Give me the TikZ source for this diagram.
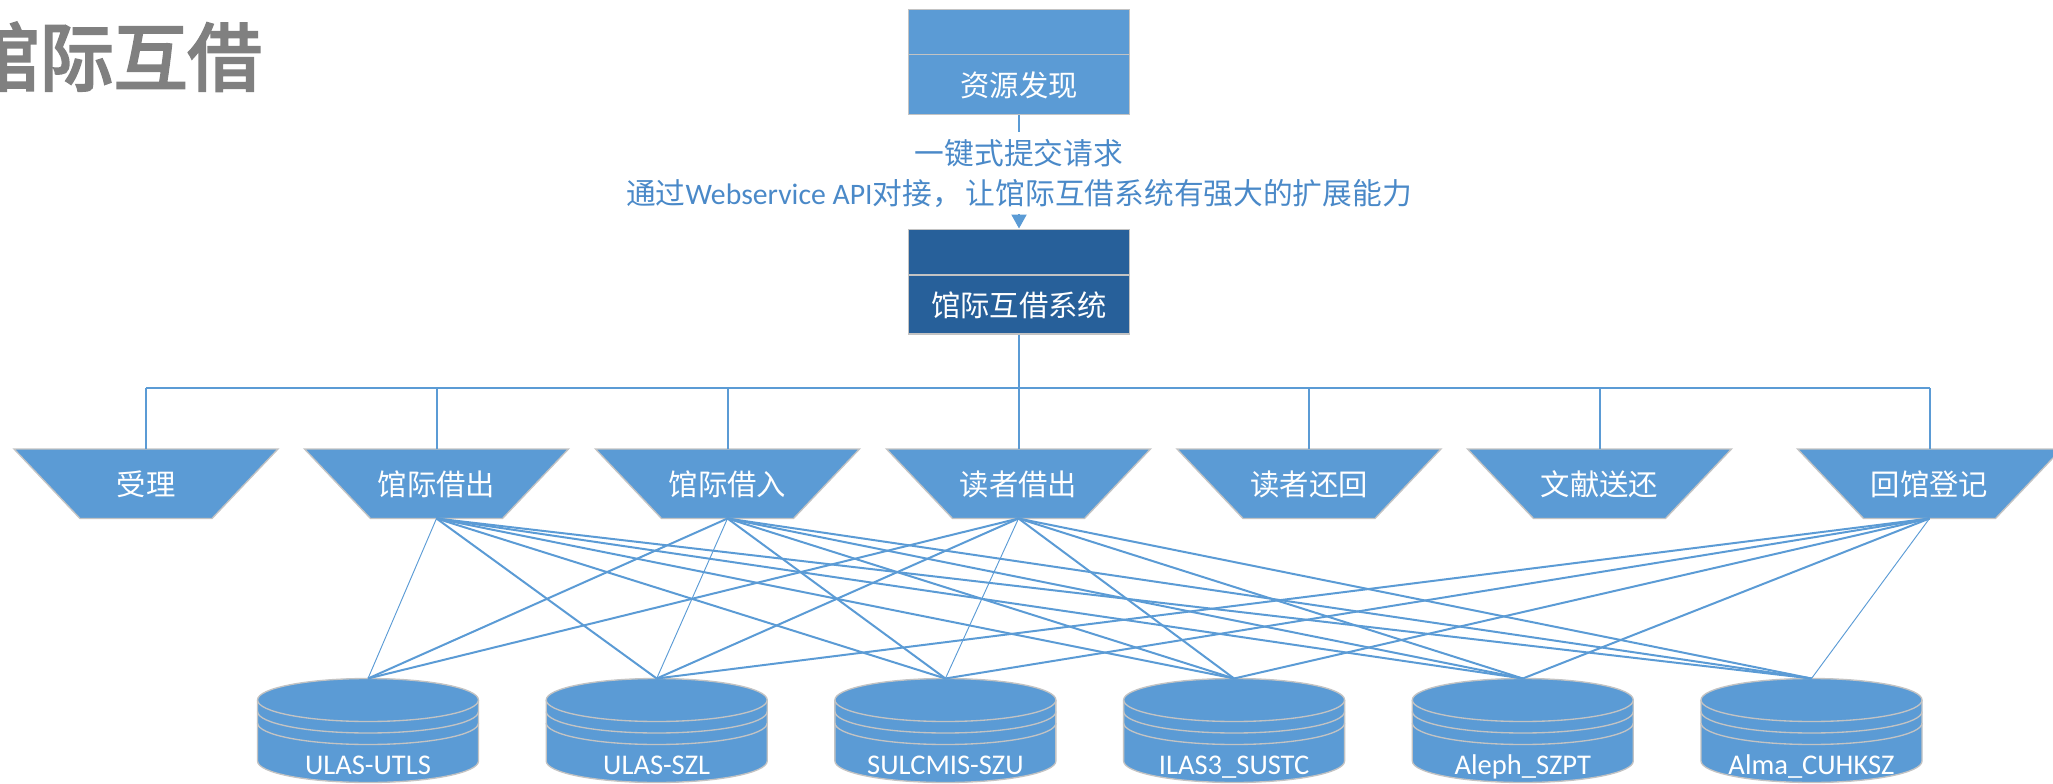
\documentclass[tikz,border=0pt]{standalone}
\usepackage{fontspec}
\setmainfont{Carlito}
\newfontfamily\cjk{Noto Sans CJK SC}
\newfontfamily\cjkb[FakeBold=3.5]{Noto Sans CJK SC}
\usetikzlibrary{arrows.meta}
\definecolor{lblue}{HTML}{5B9BD5}
\definecolor{dblue}{HTML}{27609A}
\definecolor{gborder}{HTML}{C3C3C3}
\definecolor{ttgray}{HTML}{808080}
\definecolor{labblue}{HTML}{4A89C8}
\begin{document}
\begin{tikzpicture}[x=0.75pt,y=-0.75pt,
  conn/.style={draw=lblue,line width=1.5pt},
  thinconn/.style={draw=lblue,line width=0.7pt},
  edgebox/.style={draw=gborder,line width=1pt},
  wtext/.style={text=white,font=\cjk\fontsize{22}{26}\selectfont,inner sep=0pt},
  dbtext/.style={text=white,font=\fontsize{21.4}{24}\selectfont,inner sep=0pt,anchor=base},
  labtext/.style={text=labblue,font=\fontsize{22.3}{30}\selectfont,align=center,inner xsep=2pt,inner ysep=5pt},
  titletext/.style={text=ttgray,font=\cjkb\fontsize{55.5}{60}\selectfont,inner sep=0pt,anchor=base east},
  mainbox/.style={edgebox,minimum width=165.75pt,minimum height=78.6pt,inner sep=0pt}
]
\useasboundingbox (0,0) rectangle (2053,784);

% title
\node[titletext] (title) at (262,85) {馆际互借};

% top boxes
\node[mainbox,fill=lblue] (res) at (1019,61.8) {};
\draw[edgebox] (908.5,54.3) -- (1129.5,54.3);
\node[wtext] (restxt) at (1019,85) {资源发现};

\node[mainbox,fill=dblue] (sys) at (1019,281.6) {};
\draw[edgebox] (908.5,275) -- (1129.5,275);
\node[wtext] (systxt) at (1019,305) {馆际互借系统};

% label between
\node[labtext] (lab) at (1019,173) {{\cjk 一键式提交请求}\\{\cjk 通过}Webservice API{\cjk 对接，\hspace{3pt}让馆际互借系统有强大的扩展能力}};
\draw[conn] (res.south) -- (lab.north);
\draw[conn,-{Triangle[length=10.5pt,width=11.25pt]}] (lab.south) -- (sys.north);

% trapezoids
\foreach \x/\n/\t in {146/a/受理,436.5/b/馆际借出,727.5/c/馆际借入,1018.5/d/读者借出,1309/e/读者还回,1599.5/f/文献送还,1929.5/g/回馆登记}{
  \filldraw[edgebox,fill=lblue] (\x-132,449) -- (\x+132,449) -- (\x+66,518.5) -- (\x-66,518.5) -- cycle;
  \coordinate (\n-top) at (\x,449);
  \coordinate (\n-bot) at (\x,518.5);
  \node[wtext] (\n) at (\x,484) {\t};
}

% bus
\coordinate (bus) at (1019,388);
\draw[conn] (sys.south) -- (bus);
\draw[conn] (a-top |- bus) -- (g-top |- bus);
\foreach \n in {a,b,c,d,e,f,g}{\draw[conn] (\n-top |- bus) -- (\n-top);}

% cylinders
\foreach \i/\t in {1/ULAS-UTLS,2/ULAS-SZL,3/SULCMIS-SZU,4/ILAS3\_SUSTC,5/Aleph\_SZPT,6/Alma\_CUHKSZ}{
  \pgfmathsetmacro\cx{368+288.7*(\i-1)}
  \filldraw[edgebox,fill=lblue] (\cx-110.5,700) -- (\cx-110.5,761)
     arc[start angle=180,end angle=0,x radius=110.5,y radius=21.5] -- (\cx+110.5,700)
     arc[start angle=0,end angle=-180,x radius=110.5,y radius=21.5] -- cycle;
  \draw[edgebox] (\cx-110.5,700) arc[start angle=180,end angle=0,x radius=110.5,y radius=21.5];
  \draw[edgebox] (\cx-110.5,711.5) arc[start angle=180,end angle=0,x radius=110.5,y radius=21.5];
  \draw[edgebox] (\cx-110.5,723) arc[start angle=180,end angle=0,x radius=110.5,y radius=21.5];
  \coordinate (db\i-top) at (\cx,678.5);
  \node[dbtext] (db\i) at (\cx,774.5) {\t};
}

% connections
\foreach \s/\d in {b/2,b/3,b/4,b/5,b/6,c/1,c/3,c/4,c/5,c/6,d/1,d/2,d/4,d/5,d/6,g/2,g/3,g/4,g/5}{
  \draw[conn] (\s-bot) -- (db\d-top);
}
\foreach \s/\d in {b/1,c/2,d/3,g/6}{
  \draw[thinconn] (\s-bot) -- (db\d-top);
}
\end{tikzpicture}
\end{document}
